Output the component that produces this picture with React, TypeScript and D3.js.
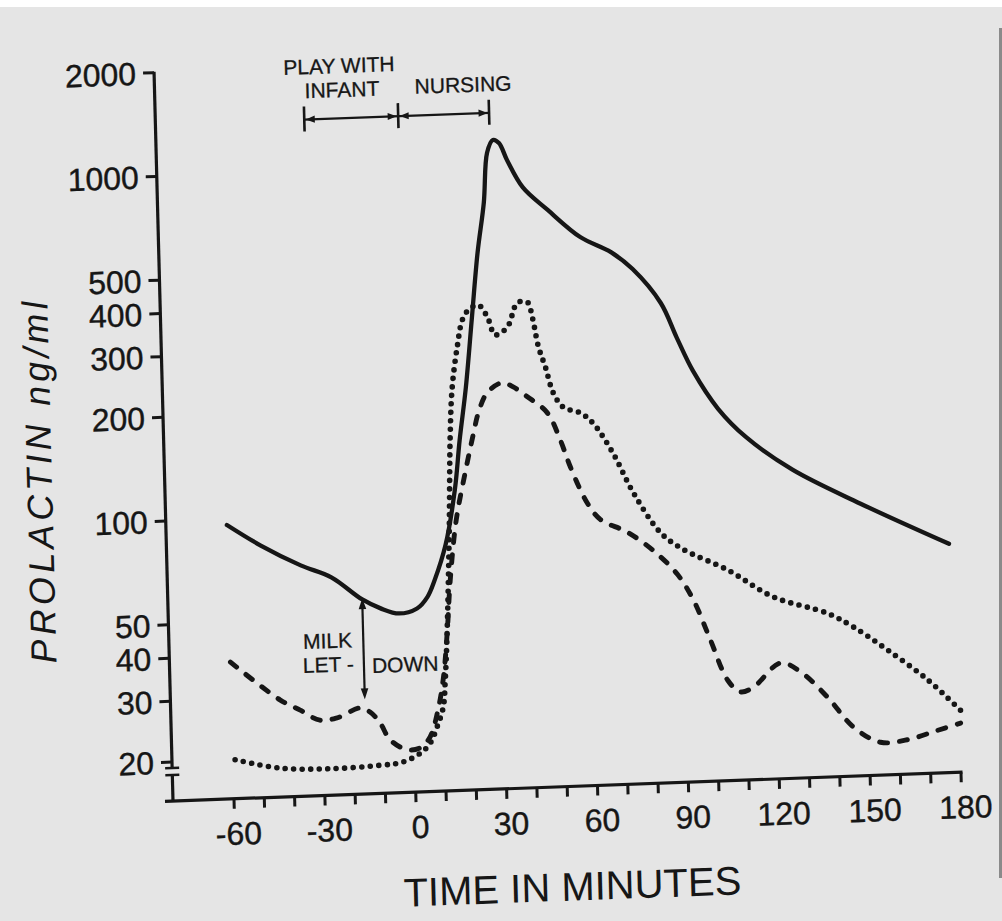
import React from 'react';
import * as d3 from 'd3';

// ---- data (time in minutes, prolactin ng/ml) ----
const solidSeries: [number, number][] = [
  [-60, 96], [-49, 83], [-36, 72], [-26, 66], [-16, 56.5], [-10, 53], [-4, 51], [2, 52.5],
  [5.5, 56.5], [8, 63], [12, 80], [15.5, 115], [17.5, 160], [20, 227], [22.5, 355],
  [25, 555], [27.5, 775], [29, 1080], [31, 1175], [33, 1150], [35.5, 1025], [40.5, 850],
  [48.5, 727], [59, 602], [69, 540], [76, 480], [85, 380], [90, 300], [95, 240], [103, 185],
  [112, 152], [127, 121], [149, 95], [178, 71],
];

const dottedSeries: [number, number][] = [
  [-59.3, 20], [-44.5, 18.7], [-28, 18.4], [-11.5, 18.6], [-4, 18.9], [2, 20], [5.2, 21.3],
  [7.6, 23.7], [9.8, 27], [10.7, 32.4], [11.75, 45], [13.3, 88], [14.4, 164], [15.5, 228],
  [17.5, 298], [19.4, 356], [21.5, 380], [24.8, 392], [27.7, 361], [30.1, 320], [34.2, 336],
  [37.7, 394], [41, 395], [42.5, 357], [44.3, 292], [46.4, 255], [48.8, 214], [52, 194],
  [57.6, 186], [61.7, 173], [68, 141], [74.3, 108], [83, 82], [90.3, 73], [104.7, 63],
  [119.6, 52], [137.3, 46], [145.8, 41.7], [156.8, 35.5], [169.8, 28.8], [180.4, 23.3],
];

const dashedSeries: [number, number][] = [
  [-60, 38.4], [-44, 29.5], [-37.4, 27.4], [-31, 25.5], [-25.3, 25.8], [-17.6, 27.4],
  [-14.4, 26.6], [-11.2, 24.7], [-8, 22], [-2.5, 20.5], [1.9, 20.7], [5.2, 22.2], [7.8, 26],
  [10, 32.4], [11.8, 45], [13.2, 63], [15.7, 94], [19, 128], [22, 165], [24, 192], [27, 218],
  [32, 232], [35.6, 225], [40.2, 210], [46.6, 188], [50.7, 156], [53.8, 130], [59, 102],
  [63.2, 91], [72, 83], [80.4, 73], [88.1, 62], [93.2, 52], [98.5, 39.6], [103.8, 30.2],
  [107.9, 27.8], [112.3, 28.6], [121.4, 33.4], [128, 31.3], [136.6, 26.3], [144.9, 21.4],
  [153.7, 19.2], [162.6, 19.4], [172.6, 20.5], [180.3, 21.4],
];

const yTicks = [20, 30, 40, 50, 100, 200, 300, 400, 500, 1000, 2000];
const xLabelTicks = [-60, -30, 0, 30, 60, 90, 120, 150, 180];
const xMinorTicks = d3.range(-60, 181, 10);

const phaseBounds = [-31, 0, 30];
const letDown = { t: -16, from: 57, to: 29 };

// scan skew of the original figure
const SKEW = [1, -0.0365, 0.026, 1, 173, 801];

export default function App() {
  const W = 1002, H = 921;
  const x = d3.scaleLinear().domain([-60, 180]).range([61, 788]);
  const y = d3.scaleLog().domain([20, 2000]).range([-39, -728.3]);
  const line = d3
    .line<[number, number]>()
    .x((d) => x(d[0]))
    .y((d) => y(d[1]))
    .curve(d3.curveCatmullRom.alpha(0.5));

  const ink = '#161616';
  const bracketY = -676;

  const tri = (tx: number, ty: number, dir: 'l' | 'r' | 'u' | 'd', len = 9, hw = 3.6) => {
    let pts: number[][] = [];
    if (dir === 'l') pts = [[tx, ty], [tx + len, ty - hw], [tx + len, ty + hw]];
    if (dir === 'r') pts = [[tx, ty], [tx - len, ty - hw], [tx - len, ty + hw]];
    if (dir === 'u') pts = [[tx, ty], [tx - hw, ty + len], [tx + hw, ty + len]];
    if (dir === 'd') pts = [[tx, ty], [tx - hw, ty - len], [tx + hw, ty - len]];
    return <polygon points={pts.map((p) => p.join(',')).join(' ')} fill={ink} />;
  };

  const ldX = x(letDown.t);
  const ldTop = y(letDown.from);
  const ldBot = y(letDown.to);

  return (
    <svg
      width={W}
      height={H}
      style={{ position: 'absolute', left: 0, top: 0, display: 'block' }}
    >
      <rect width={W} height={H} fill="#e5e5e5" />
      <rect width={W} height={7} fill="#ffffff" />
      <rect x={999} y={28} width={3} height={850} fill="#8a8a8a" />
      <g
        transform={`matrix(${SKEW.join(' ')})`}
        fontFamily="'Liberation Sans', Arial, sans-serif"
        fill={ink}
      >
        {/* y axis with break */}
        <line x1={0} x2={0} y1={y(2000) - 1} y2={-33} stroke={ink} strokeWidth={3.2} />
        <line x1={-7} x2={7} y1={-33} y2={-33} stroke={ink} strokeWidth={2.6} />
        <line x1={-7} x2={7} y1={-26} y2={-26} stroke={ink} strokeWidth={2.6} />
        <line x1={0} x2={0} y1={-26} y2={0} stroke={ink} strokeWidth={3.2} />
        {yTicks.map((v) => (
          <g key={v}>
            <line x1={-11} x2={0} y1={y(v)} y2={y(v)} stroke={ink} strokeWidth={3} />
            <text x={-18} y={y(v)} dy="0.36em" textAnchor="end" fontSize={32} stroke={ink} strokeWidth={0.4}>
              {v}
            </text>
          </g>
        ))}
        <text
          transform={`translate(-112.7,-323.1) rotate(-90)`}
          textAnchor="middle"
          fontSize={36}
          fontStyle="italic"
          textLength={362}
          lengthAdjust="spacing"
        >
          PROLACTIN ng/ml
        </text>

        {/* x axis */}
        <line x1={-8} x2={x(180) + 1.5} y1={0} y2={0} stroke={ink} strokeWidth={3.2} />
        {xMinorTicks.map((t) => (
          <line key={t} x1={x(t)} x2={x(t)} y1={0} y2={10} stroke={ink} strokeWidth={3} />
        ))}
        {xLabelTicks.map((t) => (
          <text key={t} x={x(t) + 4} y={46} textAnchor="middle" fontSize={32} stroke={ink} strokeWidth={0.4}>
            {t}
          </text>
        ))}
        <text x={396.8} y={114} textAnchor="middle" fontSize={40}>
          TIME IN MINUTES
        </text>

        {/* curves */}
        <path d={line(solidSeries) || ''} fill="none" stroke={ink} strokeWidth={4.3} strokeLinecap="round" strokeLinejoin="round" />
        <path d={line(dottedSeries) || ''} fill="none" stroke={ink} strokeWidth={5.6} strokeLinecap="round" strokeDasharray="0 8.5" />
        <path d={line(dashedSeries) || ''} fill="none" stroke={ink} strokeWidth={4.9} strokeLinecap="round" strokeDasharray="8 12" />

        {/* phase brackets */}
        <line x1={x(phaseBounds[0])} x2={x(phaseBounds[2])} y1={bracketY} y2={bracketY} stroke={ink} strokeWidth={2.2} />
        {phaseBounds.map((t) => (
          <line key={t} x1={x(t)} x2={x(t)} y1={bracketY - 13} y2={bracketY + 12} stroke={ink} strokeWidth={2.6} />
        ))}
        {tri(x(phaseBounds[0]) + 1.5, bracketY, 'l')}
        {tri(x(phaseBounds[1]) - 1.5, bracketY, 'r')}
        {tri(x(phaseBounds[1]) + 1.5, bracketY, 'l')}
        {tri(x(phaseBounds[2]) - 1.5, bracketY, 'r')}
        <text x={184.9} y={-721.2} textAnchor="middle" fontSize={21} stroke={ink} strokeWidth={0.3}>PLAY WITH</text>
        <text x={187.3} y={-697.2} textAnchor="middle" fontSize={21} stroke={ink} strokeWidth={0.3}>INFANT</text>
        <text x={308.4} y={-697.7} textAnchor="middle" fontSize={21} stroke={ink} strokeWidth={0.3}>NURSING</text>

        {/* milk let-down */}
        <line x1={ldX} x2={ldX} y1={ldTop + 4} y2={ldBot - 4} stroke={ink} strokeWidth={2.2} />
        {tri(ldX, ldTop, 'u', 11, 3.8)}
        {tri(ldX, ldBot, 'd', 11, 3.8)}
        <text x={134} y={-147} fontSize={21} stroke={ink} strokeWidth={0.3}>MILK</text>
        <text x={133.3} y={-123.1} fontSize={21} stroke={ink} strokeWidth={0.3}>LET -</text>
        <text x={202.3} y={-120.6} fontSize={21} stroke={ink} strokeWidth={0.3}>DOWN</text>
      </g>
    </svg>
  );
}
